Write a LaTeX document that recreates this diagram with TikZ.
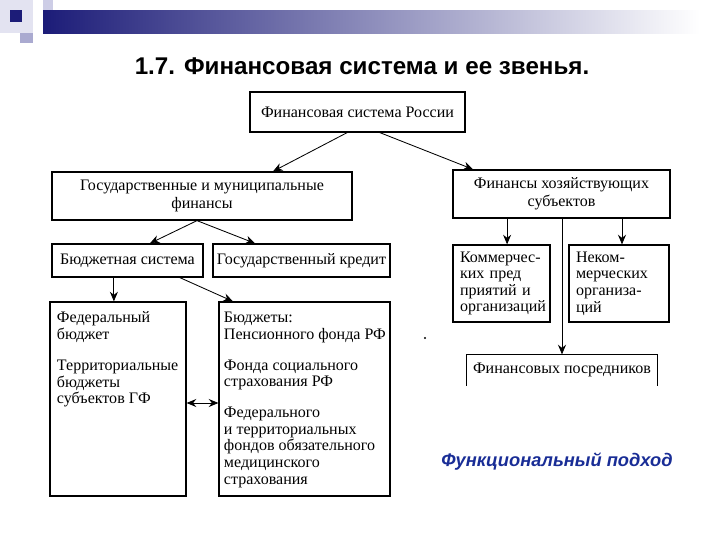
\documentclass[tikz,border=0pt]{standalone}
\usepackage{fontspec}
\setmainfont{Liberation Serif}
\newfontfamily\headfont{Liberation Sans}
\usetikzlibrary{arrows.meta}
\definecolor{slidenavy}{RGB}{28,28,120}
\definecolor{slidelilac}{RGB}{205,205,230}
\definecolor{approachblue}{RGB}{25,45,150}

\begin{document}
\begin{tikzpicture}[
    x=0.25mm, y=-0.25mm,
    box/.style={rectangle, draw, line width=0.9pt, inner sep=1mm, align=center,
                font=\fontsize{11.4}{12.8}\selectfont},
    tall box/.style={box, inner xsep=1.75mm, inner ysep=2.5mm,
                font=\fontsize{11.4}{11.8}\selectfont},
    small box/.style={box, inner xsep=1.75mm, align=left,
                font=\fontsize{11.4}{11.8}\selectfont},
    arrow/.style={-{Stealth[length=2.4mm, width=2mm]}, line width=0.6pt},
]
    % Slide background and decoration
    \useasboundingbox (0,0) rectangle (720,540);
    \fill[white] (0,0) rectangle (720,540);
    \fill[slidelilac!55] (0,0) rectangle (33,33);
    \fill[slidelilac] (43,0) rectangle (53,20);
    \fill[slidelilac!80!slidenavy] (20,33) rectangle (33,43);
    \fill[slidenavy] (10,10) rectangle (22,22);
    \shade[left color=slidenavy, right color=white] (43,10) rectangle (700,33);

    % Title
    \node[font=\headfont\bfseries\fontsize{17.2}{20}\selectfont] (title) at (362,66)
        {1.7. Финансовая система и ее звенья.};

    % Upper levels
    \node[box, minimum width=53.75mm, minimum height=10mm] (top) at (357.5,112)
        {Финансовая система России};
    \node[box, minimum width=75mm, minimum height=12mm] (gos) at (202,196)
        {Государственные и муниципальные\\ финансы};
    \node[box, minimum width=54.25mm, minimum height=12mm] (khoz) at (561.5,194)
        {Финансы хозяйствующих\\ субъектов};

    % State and municipal finance
    \node[box, minimum width=37.75mm, minimum height=8.25mm, inner xsep=0.3mm] (budsys) at (127.5,260.5)
        {Бюджетная система};
    \node[box, minimum width=44.25mm, minimum height=8.25mm, inner xsep=0.3mm] (credit) at (301.5,260.5)
        {Государственный кредит};
    \node[tall box, minimum width=34mm, minimum height=48.5mm] (fed) at (118,399)
        {\parbox[t][43.5mm][t]{30.5mm}{\raggedright Федеральный\\ бюджет\\[3.6mm]
         Территориальные\\ бюджеты\\ субъектов ГФ}};
    \node[tall box, inner xsep=1.25mm, minimum width=42.75mm, minimum height=48.5mm] (budg) at (304.5,399)
        {\parbox[t][43.5mm][t]{40.25mm}{\raggedright Бюджеты:\\ \mbox{Пенсионного фонда РФ}\\[3.6mm]
         Фонда социального\\ страхования РФ\\[3.6mm]
         Федерального\\ и территориальных\\ фондов обязательного\\ медицинского\\ страхования}};

    % Business finance
    \node[small box, text width=20.75mm, minimum height=19.25mm] (comm) at (501.5,283.5)
        {Коммерчес-\\ ких пред\\ приятий и\\ организаций};
    \node[small box, text width=21.5mm, minimum height=19.25mm] (nonc) at (619,283.5)
        {Неком-\\ мерческих\\ организа-\\ ций};
    \node[box, draw=none, minimum width=47.5mm, minimum height=7.5mm] (posr) at (562,370)
        {Финансовых посредников};
    \draw[line width=0.9pt] (posr.south west) |- (posr.north east) -- (posr.south east);

    % Connectors
    \draw[arrow] ([xshift=-2.6mm]top.south) -- ([xshift=17.75mm]gos.north);
    \draw[arrow] ([xshift=5.6mm]top.south) -- ([xshift=-22.1mm]khoz.north);
    \draw[arrow] ([xshift=-1.25mm]gos.south) -- ([xshift=5.6mm]budsys.north);
    \draw[arrow] ([xshift=-1.25mm]gos.south) -- ([xshift=-11.6mm]credit.north);
    \draw[arrow] ([xshift=-3.4mm]budsys.south) -- ([xshift=-3.4mm]budsys.south |- fed.north);
    \draw[arrow] ([xshift=13.1mm]budsys.south) -- ([xshift=-17.9mm]budg.north);
    \draw[{Stealth[length=2.4mm, width=2mm]}-{Stealth[length=2.4mm, width=2mm]}, line width=0.6pt]
        ([yshift=-1mm]fed.east) -- ([yshift=-1mm]budg.west);
    \draw[arrow] ([xshift=1.4mm]comm.north |- khoz.south) -- ([xshift=1.4mm]comm.north);
    \draw[arrow] ([xshift=0.75mm]nonc.north |- khoz.south) -- ([xshift=0.75mm]nonc.north);
    \draw[arrow] (posr.north |- khoz.south) -- (posr.north);
    \fill (425,338) circle (1.2);

    % Caption
    \node[font=\headfont\bfseries\itshape\fontsize{13}{16}\selectfont, text=approachblue] (approach)
        at (557,462) {Функциональный подход};
\end{tikzpicture}
\end{document}
